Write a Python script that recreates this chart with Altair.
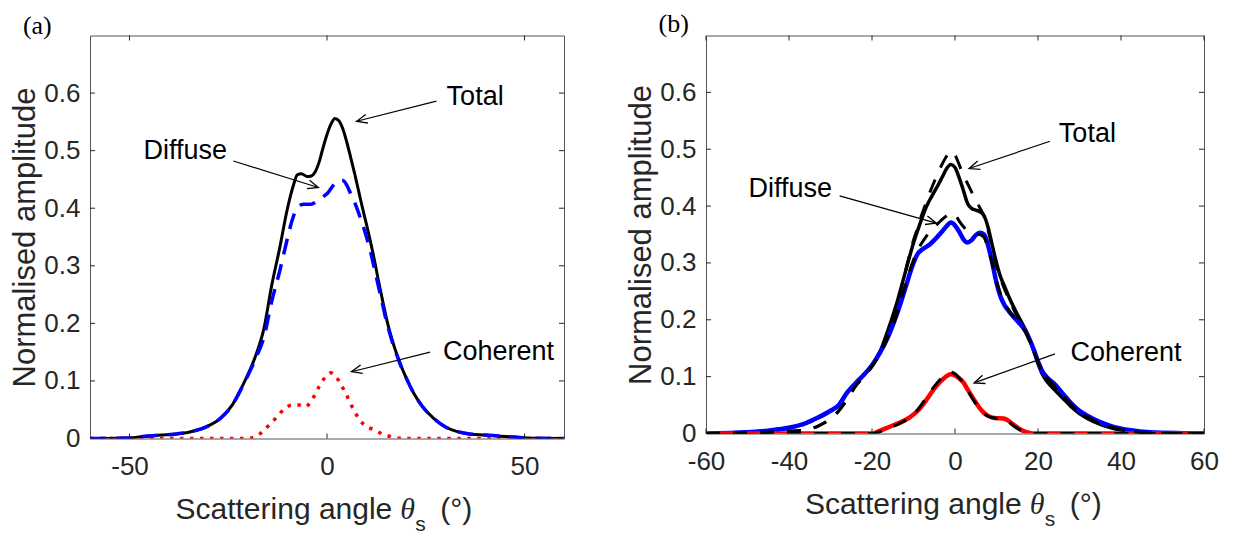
import math
import altair as alt
import pandas as pd

FONT = "Liberation Sans"
SERIF = "Liberation Serif"
INK = "#262626"

# ---------------- panel (a) data ----------------
A_TOTAL_X = [-60, -50, -46, -42, -38, -35, -30, -27, -24, -21, -18, -16, -14, -12, -10, -8.5, -7.5, -6.5, -5, -4, -3, -2,
             -1, 0, 1, 2, 3, 4, 5, 6, 7, 8, 9, 10, 11, 12, 13, 14, 15, 16, 17, 18,
             19, 20, 22, 24, 27, 30, 33, 36, 40, 44, 48, 52, 60]
A_TOTAL_Y = [0, 0.001, 0.004, 0.006, 0.008, 0.011, 0.022, 0.035, 0.058, 0.097, 0.145, 0.19, 0.266, 0.33, 0.40, 0.44, 0.458, 0.46, 0.455, 0.456, 0.463, 0.48,
             0.505, 0.528, 0.546, 0.556, 0.552, 0.538, 0.515, 0.488, 0.46, 0.43, 0.40, 0.372, 0.342, 0.31, 0.275, 0.242, 0.21, 0.183, 0.16, 0.14,
             0.122, 0.106, 0.078, 0.057, 0.035, 0.02, 0.012, 0.008, 0.006, 0.004, 0.002, 0.0005, 0]

A_DIFF_X = [-60, -50, -46, -42, -38, -35, -30, -27, -24, -21, -18, -16, -14, -12, -10, -9, -8, -7, -6, -5, -4, -3,
            -2, -1, 0, 1, 2, 3, 4, 5, 6, 7, 8, 9, 10, 11, 12, 13, 14, 15, 16, 17,
            18, 19, 20, 22, 24, 27, 30, 33, 36, 40, 44, 48, 52, 60]
A_DIFF_Y = [0, 0.001, 0.004, 0.006, 0.008, 0.011, 0.022, 0.035, 0.058, 0.096, 0.14, 0.175, 0.238, 0.29, 0.348, 0.375, 0.395, 0.404, 0.407, 0.407, 0.407, 0.41,
            0.415, 0.42, 0.425, 0.434, 0.443, 0.448, 0.448, 0.44, 0.425, 0.41, 0.392, 0.372, 0.35, 0.325, 0.295, 0.265, 0.235, 0.205, 0.18, 0.158,
            0.139, 0.121, 0.106, 0.078, 0.057, 0.035, 0.02, 0.012, 0.008, 0.006, 0.004, 0.002, 0.0005, 0]

A_COH_X = [-60, -20, -19, -17, -15, -13, -11, -9, -7, -5.5, -4, -2, 0, 1, 2, 3, 4, 5, 6, 7, 8, 10, 12, 14, 17, 20, 60]
A_COH_Y = [0, 0, 0.001, 0.008, 0.021, 0.035, 0.05, 0.058, 0.058, 0.055, 0.065, 0.09, 0.11, 0.114, 0.11, 0.1, 0.088, 0.075, 0.06, 0.047,
           0.035, 0.021, 0.015, 0.008, 0.002, 0, 0]

# ---------------- panel (b) data ----------------
B_X = [-60, -50, -45, -40, -36, -33, -30, -28, -26, -24, -22, -20, -18, -16, -14, -12, -10, -9, -8, -7,
       -6, -5, -4, -3, -2, -1, 0, 1, 2, 3, 4, 5, 6, 7, 8, 9, 10, 11, 12, 13,
       15, 17, 18, 19, 20, 21, 22, 24, 26, 28, 30, 32, 35, 38, 42, 47, 55, 60]
B_DIFF_Y = [0, 0.002, 0.005, 0.01, 0.018, 0.028, 0.04, 0.05, 0.072, 0.088, 0.103, 0.12, 0.143, 0.172, 0.21, 0.255, 0.3, 0.316, 0.323, 0.328,
            0.333, 0.34, 0.348, 0.356, 0.365, 0.371, 0.366, 0.355, 0.342, 0.336, 0.34, 0.349, 0.353, 0.35, 0.33, 0.3, 0.265, 0.24, 0.225, 0.215,
            0.198, 0.18, 0.165, 0.147, 0.127, 0.11, 0.1, 0.087, 0.07, 0.053, 0.04, 0.031, 0.02, 0.012, 0.006, 0.002, 0.0005, 0]
B_TOT_Y = [0, 0.002, 0.005, 0.01, 0.018, 0.028, 0.04, 0.05, 0.072, 0.088, 0.103, 0.12, 0.145, 0.185, 0.23, 0.283, 0.335, 0.357, 0.378, 0.397,
           0.412, 0.425, 0.438, 0.452, 0.466, 0.473, 0.468, 0.45, 0.428, 0.405, 0.396, 0.393, 0.39, 0.383, 0.362, 0.33, 0.3, 0.275, 0.258, 0.24,
           0.21, 0.182, 0.165, 0.145, 0.123, 0.105, 0.093, 0.077, 0.062, 0.047, 0.035, 0.026, 0.016, 0.009, 0.004, 0.001, 0, 0]
B_DIFF_MODEL_Y = [0, 0.001, 0.002, 0.004, 0.006, 0.013, 0.026, 0.04, 0.06, 0.083, 0.1, 0.118, 0.142, 0.172, 0.21, 0.26, 0.305, 0.322, 0.335, 0.346,
                  0.355, 0.363, 0.37, 0.377, 0.383, 0.388, 0.385, 0.374, 0.364, 0.357, 0.354, 0.352, 0.35, 0.345, 0.325, 0.298, 0.268, 0.245, 0.228, 0.216,
                  0.197, 0.178, 0.162, 0.144, 0.125, 0.11, 0.1, 0.082, 0.066, 0.05, 0.037, 0.028, 0.017, 0.01, 0.004, 0.001, 0, 0]
B_TOT_MODEL_Y = [0, 0.001, 0.002, 0.004, 0.006, 0.013, 0.026, 0.04, 0.06, 0.083, 0.1, 0.118, 0.145, 0.181, 0.226, 0.284, 0.34, 0.362, 0.385, 0.405,
                 0.425, 0.443, 0.46, 0.475, 0.488, 0.497, 0.49, 0.473, 0.455, 0.44, 0.425, 0.41, 0.397, 0.382, 0.357, 0.326, 0.295, 0.272, 0.253, 0.236,
                 0.206, 0.18, 0.163, 0.144, 0.125, 0.11, 0.1, 0.082, 0.066, 0.05, 0.037, 0.028, 0.017, 0.01, 0.004, 0.001, 0, 0]

B_COH_X = [-60, -20, -19, -17, -15, -13, -11, -9, -7, -5, -3, -1, 0, 1, 2, 3, 4, 5, 6, 7,
           8, 9, 10, 11, 12, 13, 14, 15, 16, 17, 18, 19, 60]
B_COH_Y = [0, 0, 0.002, 0.008, 0.014, 0.02, 0.028, 0.04, 0.058, 0.079, 0.095, 0.104, 0.102, 0.097, 0.09, 0.078, 0.066, 0.055, 0.044, 0.036,
           0.031, 0.028, 0.027, 0.027, 0.026, 0.022, 0.016, 0.011, 0.006, 0.003, 0.001, 0, 0]
B_COH_MODEL_Y = [0, 0, 0.001, 0.006, 0.012, 0.019, 0.028, 0.042, 0.062, 0.083, 0.099, 0.108, 0.105, 0.098, 0.089, 0.077, 0.064, 0.052, 0.042, 0.035,
                 0.03, 0.028, 0.027, 0.027, 0.025, 0.02, 0.014, 0.009, 0.005, 0.002, 0.001, 0, 0]

# ---------------- axes / annotations ----------------
Y_TICKS = [0, 0.1, 0.2, 0.3, 0.4, 0.5, 0.6]
Y_TICK_MARKS = [0.1, 0.2, 0.3, 0.4, 0.5, 0.6]
A_X_TICKS = [-50, 0, 50]
B_X_TICKS = [-60, -40, -20, 0, 20, 40, 60]

ANN_TEXT = ["Total", "Diffuse", "Coherent"]
A_ANN_TX = [37.5, -35.9, 43.4]
A_ANN_TY = [0.580, 0.485, 0.136]
A_ARR_X0 = [27.7, -23.7, 26.1]
A_ARR_Y0 = [0.586, 0.482, 0.150]
A_ARR_X1 = [7.5, -2.2, 6.2]
A_ARR_Y1 = [0.551, 0.436, 0.116]

B_ANN_TX = [31.9, -39.7, 41.2]
B_ANN_TY = [0.513, 0.416, 0.128]
B_ARR_X0 = [22.9, -27.8, 24.1]
B_ARR_Y0 = [0.514, 0.418, 0.140]
B_ARR_X1 = [3.4, -4.5, 4.6]
B_ARR_Y1 = [0.466, 0.370, 0.089]

W_A, H_A = 474, 403
W_B, H_B = 498, 398

ARROW_PATH = "M -1 -0.42 L 0 0 L -1 0.42"


def panel(W, H, xticks, series, ann, tag, tag_pos, title_cx):
    X = alt.X("x:Q", scale=alt.Scale(domain=[-60, 60], nice=False, zero=False),
              axis=alt.Axis(values=xticks, labelExpr="datum.value + ''", title=None, ticks=False,
                            domain=False, grid=False, labelFont=FONT, labelFontSize=26, labelColor=INK,
                            labelPadding=15, labelFlush=False, labelOverlap=False))
    Y = alt.Y("y:Q", scale=alt.Scale(domain=[0, 0.7], nice=False, zero=False),
              axis=alt.Axis(values=Y_TICKS, labelExpr="datum.value + ''", title="Normalised amplitude",
                            titleFont=FONT, titleFontSize=31, titleFontWeight="normal", titleColor=INK,
                            titlePadding=2, ticks=False, domain=False, grid=False, labelFont=FONT,
                            labelFontSize=26, labelColor=INK, labelPadding=10, labelFlush=False,
                            labelOverlap=False))
    layers = []
    for xs, ys, style in series:
        layers.append(alt.Chart(pd.DataFrame({"x": xs, "y": ys}))
                      .mark_line(interpolate="monotone", clip=True, **style).encode(x=X, y=Y))
    # inward ticks on all four sides
    ydf = pd.DataFrame({"y": Y_TICK_MARKS})
    xdf = pd.DataFrame({"x": xticks})
    layers.append(alt.Chart(ydf).mark_rule(color=INK, strokeWidth=1).encode(y=Y, x=alt.value(0), x2=alt.value(5)))
    layers.append(alt.Chart(ydf).mark_rule(color=INK, strokeWidth=1).encode(y=Y, x=alt.value(W - 5), x2=alt.value(W)))
    layers.append(alt.Chart(xdf).mark_rule(color=INK, strokeWidth=1).encode(x=X, y=alt.value(H - 5), y2=alt.value(H)))
    layers.append(alt.Chart(xdf).mark_rule(color=INK, strokeWidth=1).encode(x=X, y=alt.value(0), y2=alt.value(5)))

    tx, ty, x0, y0, x1, y1 = ann
    sx, sy = W / 120.0, H / 0.7
    angs = [math.degrees(math.atan2(-(b1 - b0) * sy, (a1 - a0) * sx)) % 360
            for a0, b0, a1, b1 in zip(x0, y0, x1, y1)]
    adf = pd.DataFrame({"x": x0, "y": y0, "x2": x1, "y2": y1})
    layers.append(alt.Chart(adf).mark_rule(color="black", strokeWidth=1.2)
                  .encode(x=X, y=Y, x2="x2:Q", y2="y2:Q"))
    hdf = pd.DataFrame({"x": x1, "y": y1, "ang": angs})
    layers.append(alt.Chart(hdf).mark_point(shape=ARROW_PATH, filled=False, stroke="black", strokeWidth=1.3,
                                            size=440, opacity=1)
                  .encode(x=X, y=Y, angle=alt.Angle("ang:Q", scale=None)))
    tdf = pd.DataFrame({"x": tx, "y": ty, "t": ANN_TEXT})
    layers.append(alt.Chart(tdf).mark_text(font=FONT, fontSize=27, color="black", align="center",
                                           baseline="alphabetic")
                  .encode(x=X, y=Y, text="t:N"))
    # panel tag
    layers.append(alt.Chart(pd.DataFrame({"t": [tag]})).mark_text(font=SERIF, fontSize=26, color="black",
                                                                 align="center", baseline="alphabetic")
                  .encode(x=alt.value(tag_pos[0]), y=alt.value(tag_pos[1]), text="t:N"))
    # x-axis title built from pieces (subscript)
    pieces = [("Scattering angle", FONT, 30, "normal", "right", 64, 0),
              ("\u03b8", SERIF, 30, "italic", "left", 72, 0),
              ("s", FONT, 21, "normal", "left", 87, 12),
              ("(\u00b0)", FONT, 30, "normal", "right", 144, 0)]
    for txt, fnt, fs, fst, al, dx, dy in pieces:
        layers.append(alt.Chart(pd.DataFrame({"t": [txt]})).mark_text(font=fnt, fontSize=fs, fontStyle=fst,
                                                                     color=INK, align=al, baseline="alphabetic")
                      .encode(x=alt.value(title_cx + dx), y=alt.value(H + 80 + dy), text="t:N"))
    return alt.layer(*layers).properties(width=W, height=H)


series_a = [
    (A_COH_X, A_COH_Y, dict(color="#ff0000", strokeWidth=3.5, strokeDash=[3.5, 6.5])),
    (A_TOTAL_X, A_TOTAL_Y, dict(color="black", strokeWidth=3)),
    (A_DIFF_X, A_DIFF_Y, dict(color="#0000ff", strokeWidth=3.5, strokeDash=[16, 10])),
]
series_b = [
    (B_X, B_TOT_Y, dict(color="black", strokeWidth=3.5)),
    (B_X, B_DIFF_Y, dict(color="#0000ff", strokeWidth=4.5)),
    (B_COH_X, B_COH_Y, dict(color="#ff0000", strokeWidth=4.5)),
    (B_X, B_TOT_MODEL_Y, dict(color="black", strokeWidth=3, strokeDash=[14, 13])),
    (B_X, B_DIFF_MODEL_Y, dict(color="black", strokeWidth=3, strokeDash=[14, 13])),
    (B_COH_X, B_COH_MODEL_Y, dict(color="black", strokeWidth=3, strokeDash=[14, 13])),
]

pa = panel(W_A, H_A, A_X_TICKS, series_a,
           (A_ANN_TX, A_ANN_TY, A_ARR_X0, A_ARR_Y0, A_ARR_X1, A_ARR_Y1),
           "(a)", (-52.7, -2.0), W_A / 2 + 1.3)
pb = panel(W_B, H_B, B_X_TICKS, series_b,
           (B_ANN_TX, B_ANN_TY, B_ARR_X0, B_ARR_Y0, B_ARR_X1, B_ARR_Y1),
           "(b)", (-32.3, -3.4), W_B / 2 + 2.7)

chart = (alt.hconcat(pa, pb, spacing=60)
         .properties(padding={"left": 1, "top": 2.5, "right": 0, "bottom": 0}, background="white")
         .configure_view(stroke="#555555", strokeWidth=1))

chart.save("out.html", embed_options={"renderer": "svg", "actions": False})
